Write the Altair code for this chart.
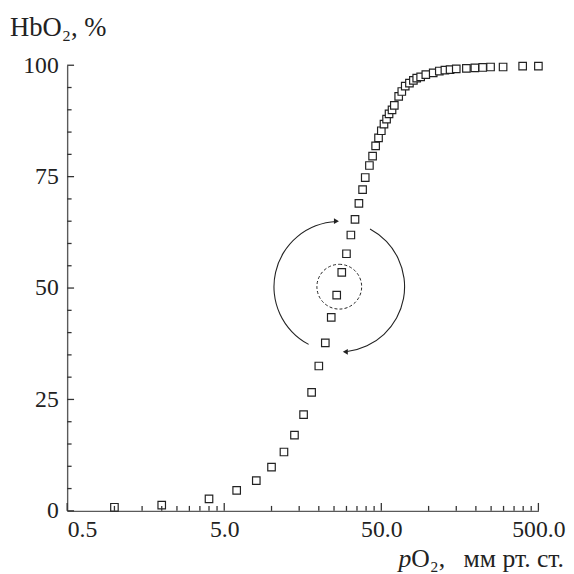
import altair as alt
import pandas as pd

# ---- data ----
po2 = [1.0, 2.0, 4.0, 6.0, 8.0, 10.0, 12.0, 14.0, 16.0, 18.0, 20.0,
       22.0, 24.0, 26.0, 28.0, 30.0, 32.0, 34.0, 36.0, 38.0, 39.5,
       42.0, 44.0, 46.0, 48.0, 50.0, 52.0, 54.0, 56.0, 58.5, 60.5,
       64.5, 67.5, 71.0, 75.5, 80.0, 84.0, 89.0, 96.0, 107.0, 117.0,
       127.0, 137.0, 150.0, 174.0, 197.0, 221.0, 248.0, 298.0, 397.0, 500.0]
hbo2 = [0.8, 1.3, 2.7, 4.6, 6.8, 9.8, 13.2, 17.0, 21.6, 26.6, 32.5,
        37.7, 43.4, 48.4, 53.5, 57.7, 61.9, 65.4, 69.0, 72.1, 74.8,
        77.5, 79.6, 81.9, 83.7, 85.3, 86.8, 87.9, 89.1, 90.0, 91.0,
        93.0, 94.1, 95.3, 96.0, 96.6, 97.1, 97.4, 97.9, 98.3, 98.7,
        98.9, 99.0, 99.2, 99.3, 99.4, 99.5, 99.6, 99.6, 99.8, 99.8]

x_major = [0.5, 5.0, 50.0, 500.0]
x_minor = [1.0, 1.5, 2.0, 2.5, 3.0, 3.5, 4.0, 4.5,
           10.0, 15.0, 20.0, 25.0, 30.0, 35.0, 40.0, 45.0,
           100.0, 150.0, 200.0, 250.0, 300.0, 350.0, 400.0, 450.0]
y_major = [0, 25, 50, 75, 100]
y_minor = [5, 10, 15, 20, 30, 35, 40, 45, 55, 60, 65, 70, 80, 85, 90, 95]

# annotation anchor (centre of the circles) and arrow heads
circle_center_x = [27.0]
circle_center_y = [50.3]
arrow_top = ([25.9], [65.0])
arrow_bottom = ([29.5], [35.7])

y_title = ["HbO₂, %"]
x_title_p = ["p"]
x_title_o2 = ["O₂,"]
x_title_units = ["мм рт. ст."]

W, H = 478, 452
FONT = "Liberation Serif"
INK = "#222222"

xscale = alt.Scale(type="log", domain=[0.5, 500], nice=False)
yscale = alt.Scale(domain=[0, 100], nice=False)

label_align = {"condition": {"test": "datum.value <= 0.5", "value": "left"}, "value": "center"}

XAXIS = alt.Axis(values=x_major, format=".1f", title=None, ticks=False,
                 labelPadding=7, labelAlign=label_align,
                 labelFont=FONT, labelFontSize=24, labelColor=INK,
                 domainColor="#5a5a5a", domainWidth=1.4, grid=False,
                 labelOverlap=False)
YAXIS = alt.Axis(values=y_major, title=None, ticks=False,
                 labelPadding=9, labelFont=FONT, labelFontSize=24, labelColor=INK,
                 domainColor="#5a5a5a", domainWidth=1.4, grid=False,
                 labelOverlap=False)


def X(field):
    return alt.X(field, scale=xscale, axis=XAXIS)


def Y(field):
    return alt.Y(field, scale=yscale, axis=YAXIS)


pts = pd.DataFrame({"po2": po2, "hbo2": hbo2})

points = alt.Chart(pts).mark_point(
    shape="square", size=58, filled=True, fill="white", stroke=INK, strokeWidth=1.2, opacity=1
).encode(x=X("po2:Q"), y=Y("hbo2:Q"))


def xtick(vals, length):
    return alt.Chart(pd.DataFrame({"v": vals})).mark_rule(color="#333333", strokeWidth=1.3).encode(
        x=X("v:Q"), y=alt.value(H), y2=alt.value(H - length))


def ytick(vals, length):
    return alt.Chart(pd.DataFrame({"v": vals})).mark_rule(color="#333333", strokeWidth=1.3).encode(
        y=Y("v:Q"), x=alt.value(0), x2=alt.value(length))


center = pd.DataFrame({"cx": circle_center_x, "cy": circle_center_y})


def arc(t1, t2):
    return alt.Chart(center).mark_arc(
        theta=t1, theta2=t2, radius=66.8, radius2=65.7, fill=INK, stroke=None
    ).encode(x=X("cx:Q"), y=Y("cy:Q"))


arc_left = arc(3.63, 6.24)
arc_right = arc(0.49, 3.02)

dashed = alt.Chart(center).mark_arc(
    theta=0, theta2=6.2832, radius=22.7, radius2=0, fill=None, filled=False,
    stroke=INK, strokeWidth=1.0, strokeDash=[3, 2.2]
).encode(x=X("cx:Q"), y=Y("cy:Q"))


def head(xy, shape):
    return alt.Chart(pd.DataFrame({"ax": xy[0], "ay": xy[1]})).mark_point(
        shape=shape, size=34, filled=True, fill=INK, stroke=None, opacity=1
    ).encode(x=X("ax:Q"), y=Y("ay:Q"))


head_top = head(arrow_top, "triangle-right")
head_bottom = head(arrow_bottom, "triangle-left")


def label(txt, xpos, ypos, align="left", style="normal", size=26):
    return alt.Chart(pd.DataFrame({"t": txt})).mark_text(
        font=FONT, fontSize=size, fontStyle=style, align=align, baseline="alphabetic", color=INK
    ).encode(text="t:N", x=alt.value(xpos), y=alt.value(ypos))


t_y = label(y_title, -58, -30, size=27)
t_p = label(x_title_p, 336, H + 57, style="italic")
t_o2 = label(x_title_o2, 349, H + 57)
t_units = label(x_title_units, 504, H + 57, align="right")

chart = alt.layer(
    arc_left, arc_right, dashed, head_top, head_bottom,
    points, xtick(x_minor, 5), xtick(x_major, 8), ytick(y_minor, 4.5), ytick(y_major, 7),
    t_y, t_p, t_o2, t_units
).properties(
    width=W, height=H,
    autosize=alt.AutoSizeParams(type="none"),
    padding={"left": 60, "top": 54, "right": 28, "bottom": 60},
    background="white",
).configure_view(stroke=None).configure_axis(
    labelFont=FONT, labelFontSize=24, labelColor=INK
)

chart.save("out.html", embed_options={"renderer": "svg", "actions": False})
